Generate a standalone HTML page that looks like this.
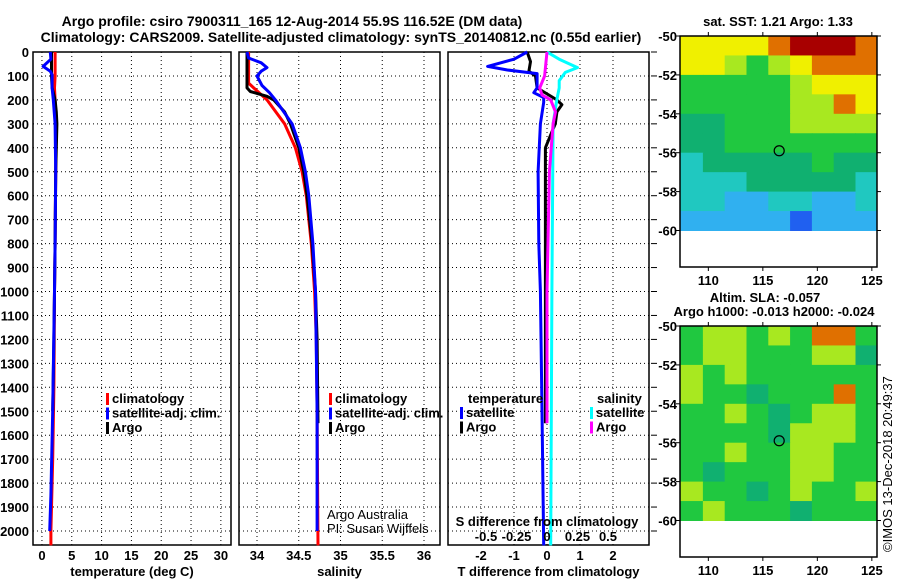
<!DOCTYPE html>
<html><head><meta charset="utf-8">
<style>
html,body{margin:0;padding:0;background:#fff;}
svg{display:block;font-family:"Liberation Sans",Arial,sans-serif;}
.b{font-weight:bold;font-size:13px;}
.t{font-weight:bold;font-size:14px;}
</style></head>
<body>
<svg id="chart" width="900" height="580" viewBox="0 0 900 580" xmlns="http://www.w3.org/2000/svg">
<g id="titles">
<text x="292" y="26" text-anchor="middle" class="t">Argo profile: csiro 7900311_165 12-Aug-2014 55.9S 116.52E (DM data)</text>
<text x="341" y="42" text-anchor="middle" class="t">Climatology: CARS2009. Satellite-adjusted climatology: synTS_20140812.nc (0.55d earlier)</text>
</g>
</svg>
<script>
// ---------- data ----------
const depthTicks=[0,100,200,300,400,500,600,700,800,900,1000,1100,1200,1300,1400,1500,1600,1700,1800,1900,2000];
const tempTicks=[0,5,10,15,20,25,30];
const salTicks=[34,34.5,35,35.5,36];
const salTickLabels=["34","34.5","35","35.5","36"];
const tdiffTicks=[-2,-1,0,1,2];
const sdiffTicks=[-0.5,-0.25,0,0.25,0.5];
const sdiffTickLabels=["-0.5","-0.25","0","0.25","0.5"];

const tempClimDepth=[0,100,150,200,300,500,800,1000,1400,1700,2000,2060];
const tempClim=[2.2,2.2,2.1,2.2,2.4,2.3,2.2,2.1,2.0,1.8,1.5,1.5];
const tempSatDepth=[0,30,60,80,95,150,200,300,500,800,1000,1500,1850,2000];
const tempSat=[1.4,1.5,0.2,1.4,1.7,1.7,1.9,2.2,2.3,2.2,2.1,1.8,1.5,1.3];
const tempArgoDepth=[0,100,150,180,200,250,300,400,500,800,1000,1200,1500];
const tempArgo=[1.6,1.6,1.7,2.0,2.2,2.4,2.5,2.4,2.3,2.2,2.1,2.0,1.8];

const salClimDepth=[0,130,150,200,300,400,500,600,800,1000,1200,1500,2060];
const salClim=[33.9,33.9,33.96,34.12,34.33,34.46,34.54,34.59,34.65,34.69,34.71,34.72,34.73];
const salSatDepth=[0,25,45,65,80,100,140,170,200,300,400,500,600,800,1000,1500,2000];
const salSat=[33.88,33.9,34.05,34.12,34.05,34.0,34.06,34.15,34.22,34.42,34.52,34.58,34.62,34.67,34.7,34.72,34.72];
const salArgoDepth=[0,150,165,175,185,200,250,300,400,500,600,800,1000,1200,1550];
const salArgo=[33.88,33.88,33.92,34.02,34.12,34.2,34.33,34.4,34.5,34.56,34.6,34.66,34.7,34.72,34.73];

const tdSatDepth=[0,30,60,75,90,120,150,170,190,210,300,500,800,1000,1500,2060];
const tdSat=[-0.6,-1.0,-1.8,-1.2,-0.3,-0.3,-0.3,-0.4,-0.1,-0.1,-0.2,-0.27,-0.25,-0.2,-0.15,-0.1];
const tdArgoDepth=[0,40,80,100,150,175,200,220,250,300,350,400,600,1000,1550];
const tdArgo=[-0.6,-0.5,-0.55,-0.35,-0.3,0.0,0.3,0.45,0.3,0.25,0.1,-0.05,-0.05,-0.05,-0.05];
const sdSatDepth=[0,30,65,85,120,150,200,300,1000,2060];
const sdSat=[0.0,0.1,0.25,0.15,0.1,0.1,0.08,0.05,0.04,0.03];
const sdArgoDepth=[0,100,150,180,200,250,300,500,1000,1550];
const sdArgo=[0.0,-0.02,-0.06,-0.04,0.03,0.07,0.05,0.02,0.0,0.0];

// map grids: rows lat -50..-60 (1 deg), cols lon 107.5..125.5 (2 deg); colour index
const sstGrid=[
[7,7,7,7,8,9,9,9,8],
[7,7,6,5,6,7,8,8,8],
[5,5,5,5,5,6,7,7,7],
[5,5,5,5,5,6,6,8,7],
[4,4,5,5,5,6,6,6,6],
[4,4,5,5,5,5,5,5,5],
[3,4,4,4,4,4,5,4,4],
[3,3,3,4,4,4,4,4,3],
[3,3,2,2,3,3,2,2,3],
[2,2,2,2,2,1,2,2,2]];
const slaGrid=[
[5,6,6,5,6,5,8,8,5],
[5,6,6,5,5,5,6,6,4],
[6,5,6,5,5,5,5,5,5],
[6,5,5,4,5,5,5,8,5],
[5,5,6,5,4,5,6,6,5],
[5,5,5,5,4,6,6,6,5],
[5,5,6,5,5,6,6,5,5],
[5,4,5,5,5,6,6,5,5],
[6,5,5,4,5,6,5,5,6],
[5,6,5,5,5,4,5,5,5]];
const mapLonTicks=[110,115,120,125];
const mapLatTicks=[-50,-52,-54,-56,-58,-60];
const floatLon=116.5, floatLat=-55.9;

// ---------- drawing ----------
const NS="http://www.w3.org/2000/svg";
const svg=document.getElementById('chart');
function mk(tag,attrs,parent,txt){const e=document.createElementNS(NS,tag);for(const k in attrs)e.setAttribute(k,attrs[k]);if(txt!==undefined)e.textContent=txt;(parent||svg).appendChild(e);return e;}
const TOP=52,BOT=545;
const yD=d=>TOP+d*0.2395;
const panels=[
 {name:'temperature',x0:33,x1:231},
 {name:'salinity',x0:239,x1:440},
 {name:'difference',x0:448,x1:649}
];
const xT=v=>33+(v+1.5)*(198/33.2);
const xS=v=>257+(v-34)*83.5;
const xTD=v=>547+v*33;
const xSD=v=>547+v*122;

function frame(p,xt,xticks,labels,axisName,labelY){
  const g=mk('g',{});
  
  
  depthTicks.forEach(d=>{
    const l=mk('line',{x1:p.x0,x2:p.x1,y1:yD(d),y2:yD(d),stroke:'#000','stroke-width':1,'stroke-dasharray':'1,3'},g);
    
    
  });
  xticks.forEach((v,i)=>{
    const x=xt(v);
    const l=mk('line',{x1:x,x2:x,y1:TOP,y2:BOT,stroke:'#000','stroke-width':1,'stroke-dasharray':'1,3'},g);
    
    
    if(labels){
      const t=mk('text',{x:x,y:labelY,'text-anchor':'middle',class:'b'},g,labels[i]);
      
      
    }
  });
  const r=mk('rect',{x:p.x0,y:TOP,width:p.x1-p.x0,height:BOT-TOP,fill:'none',stroke:'#000','stroke-width':1.5},g);
  
  
  if(axisName){
    const t=mk('text',{x:(p.x0+p.x1)/2,y:576,'text-anchor':'middle',class:'b'},g,axisName);
    
    
  }
  return g;
}
function line(g,depths,vals,xf,color,name,w){
  const pts=depths.map((d,i)=>xf(vals[i]).toFixed(1)+','+yD(d).toFixed(1)).join(' ');
  const pl=mk('polyline',{points:pts,fill:'none',stroke:color,'stroke-width':w||3,'stroke-linejoin':'round'},g);
  
  
}
function legend(g,x,y,items){
  items.forEach((it,i)=>{
    const r=mk('rect',{x:x,y:y+i*14.5-10,width:3,height:12,fill:it[0]},g);
    
    
    const t=mk('text',{x:x+6,y:y+i*14.5,class:'b'},g,it[1]);
    
    
  });
}

// depth labels
depthTicks.forEach(d=>{
  const t=mk('text',{x:29,y:yD(d)+5,'text-anchor':'end',class:'b'},svg,String(d));
  
  
});

// panel 1
const g1=frame(panels[0],xT,tempTicks,tempTicks.map(String),'temperature (deg C)',560);
line(g1,tempClimDepth,tempClim,xT,'#ff0000','temperature-climatology-line');
line(g1,tempArgoDepth,tempArgo,xT,'#000000','temperature-argo-line');
line(g1,tempSatDepth,tempSat,xT,'#0000ff','temperature-satellite-line');
legend(g1,106,403,[['#ff0000','climatology'],['#0000ff','satellite-adj. clim.'],['#000','Argo']]);

// panel 2
const g2=frame(panels[1],xS,salTicks,salTickLabels,'salinity',560);
line(g2,salClimDepth,salClim,xS,'#ff0000','salinity-climatology-line');
line(g2,salArgoDepth,salArgo,xS,'#000000','salinity-argo-line');
line(g2,salSatDepth,salSat,xS,'#0000ff','salinity-satellite-line');
legend(g2,329,403,[['#ff0000','climatology'],['#0000ff','satellite-adj. clim.'],['#000','Argo']]);
const c1=mk('text',{x:327,y:519,'font-size':'13'},g2,'Argo Australia');


const c2=mk('text',{x:327,y:533,'font-size':'13'},g2,'PI: Susan Wijffels');



// panel 3
const g3=frame(panels[2],xTD,tdiffTicks,tdiffTicks.map(String),'T difference from climatology',560);
line(g3,tdArgoDepth,tdArgo,xTD,'#000000','tdiff-argo-line');
line(g3,tdSatDepth,tdSat,xTD,'#0000ff','tdiff-satellite-line');
line(g3,sdSatDepth,sdSat,xSD,'#00ffff','sdiff-satellite-line');
line(g3,sdArgoDepth,sdArgo,xSD,'#ff00ff','sdiff-argo-line');
depthTicks.forEach(d=>{
  const l=mk('line',{x1:651,x2:657,y1:yD(d),y2:yD(d),stroke:'#000','stroke-width':1},g3);
  
  
});
const lt=mk('text',{x:468,y:403,class:'b'},g3,'temperature');


const ls=mk('text',{x:597,y:403,class:'b'},g3,'salinity');


legend(g3,460,417,[['#0000ff','satellite'],['#000','Argo']]);
legend(g3,590,417,[['#00ffff','satellite'],['#ff00ff','Argo']]);
const st=mk('text',{x:547,y:526,'text-anchor':'middle',class:'b'},g3,'S difference from climatology');


sdiffTicks.forEach((v,i)=>{
  const t=mk('text',{x:xSD(v),y:541,'text-anchor':'middle',class:'b'},g3,sdiffTickLabels[i]);
  
  
});

// maps
const palette=['#1020b0','#2060f0','#30b0f0','#20c8c0','#10b070','#20c840','#a8e820','#f0f000','#e07000','#a80000'];
function drawMap(name,grid,top,title1,titleY){
  const L=680,R=877,lat60=top+194.5,bottom=lat60+36.5;
  const xL=lon=>L+(lon-107.4)*10.9;
  const yL=lat=>top+(-50-lat)*19.45;
  const g=mk('g',{});
  
  
  grid.forEach((row,ri)=>row.forEach((v,ci)=>{
    const x0=(ci==0)?L:xL(107.5+ci*2), x1=(ci==row.length-1)?R:xL(109.5+ci*2);
    const c=mk('rect',{x:x0,y:yL(-50-ri),width:x1-x0+0.5,height:19.95,fill:palette[v]},g);
    
    
  }));
  const fr=mk('rect',{x:L,y:top,width:R-L,height:bottom-top,fill:'none',stroke:'#000','stroke-width':1.5},g);
  
  
  mapLonTicks.forEach(lon=>{
    mk('line',{x1:xL(lon),x2:xL(lon),y1:bottom,y2:bottom+4,stroke:'#000'},g);
    mk('line',{x1:xL(lon),x2:xL(lon),y1:top,y2:top-4,stroke:'#000'},g);
    const t=mk('text',{x:xL(lon),y:bottom+18,'text-anchor':'middle',class:'b'},g,String(lon));
    
    
  });
  mapLatTicks.forEach(lat=>{
    mk('line',{x1:L-4,x2:L,y1:yL(lat),y2:yL(lat),stroke:'#000'},g);
    mk('line',{x1:R,x2:R+4,y1:yL(lat),y2:yL(lat),stroke:'#000'},g);
    const t=mk('text',{x:L-3,y:yL(lat)+5,'text-anchor':'end',class:'b'},g,String(lat));
    
    
  });
  const ci=mk('circle',{cx:xL(floatLon),cy:yL(floatLat),r:5,fill:'none',stroke:'#000','stroke-width':1.2},g);
  
  
  if(title1){const t=mk('text',{x:778,y:titleY,'text-anchor':'middle',class:'b','font-size':'12'},g,title1);
    
    }
  return g;
}
drawMap('sst-map',sstGrid,36,'sat. SST: 1.21 Argo: 1.33',26);
drawMap('sla-map',slaGrid,326,null,0);
const a1=mk('text',{x:765,y:302,'text-anchor':'middle',class:'b','font-size':'12'},svg,'Altim. SLA: -0.057');


const a2=mk('text',{x:774,y:316,'text-anchor':'middle',class:'b','font-size':'12'},svg,'Argo h1000: -0.013 h2000: -0.024');


const cp=mk('text',{x:0,y:0,'font-size':'13',transform:'translate(892,552) rotate(-90)'},svg,'©IMOS 13-Dec-2018 20:49:37');


</script>
</body></html>
